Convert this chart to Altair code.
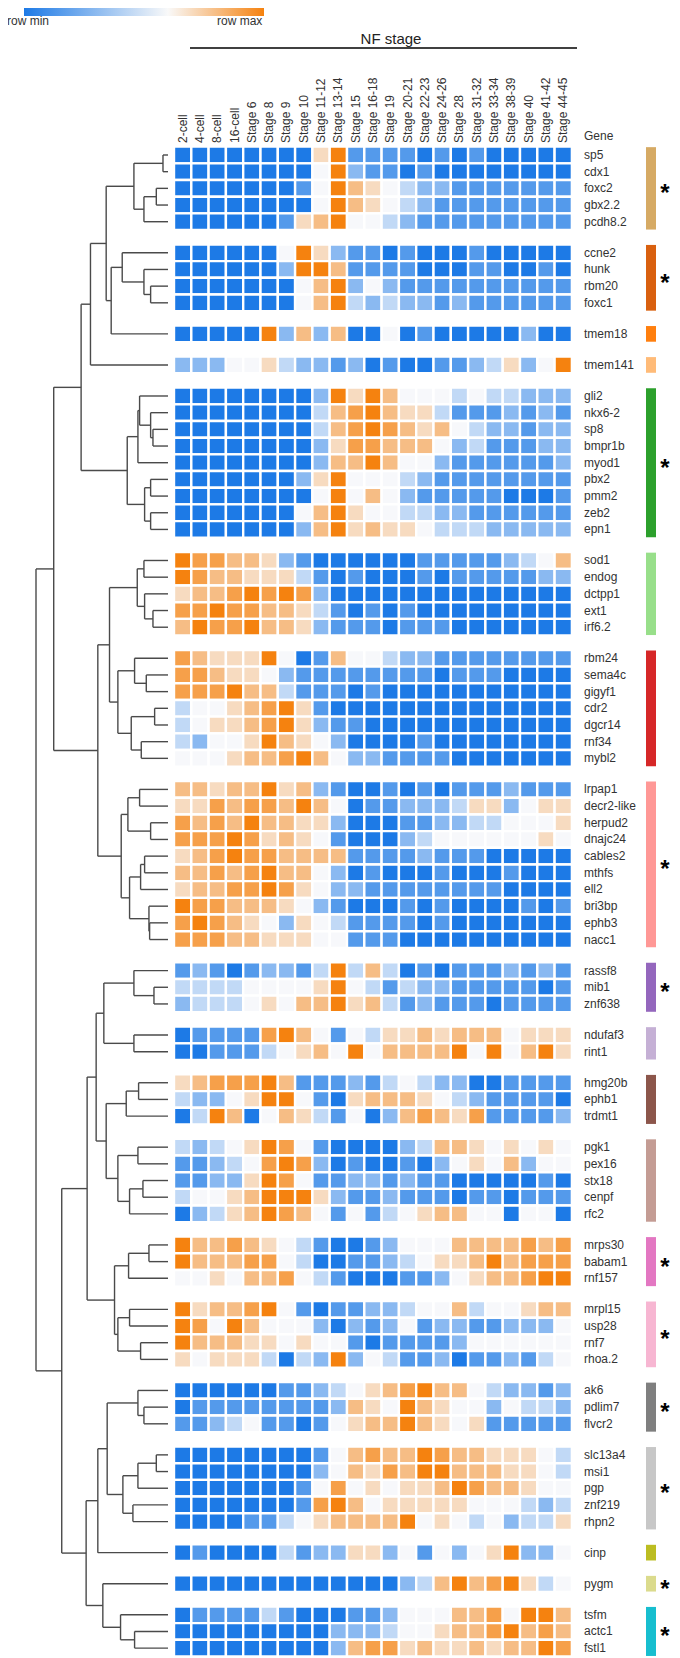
import altair as alt
import pandas as pd

# ---------------- data ----------------
stages = ["2-cell", "4-cell", "8-cell", "16-cell", "Stage 6", "Stage 8", "Stage 9",
          "Stage 10", "Stage 11-12", "Stage 13-14", "Stage 15", "Stage 16-18",
          "Stage 19", "Stage 20-21", "Stage 22-23", "Stage 24-26", "Stage 28",
          "Stage 31-32", "Stage 33-34", "Stage 38-39", "Stage 40", "Stage 41-42",
          "Stage 44-45"]

# expression level per cell, 0 = row min (blue) .. 4 = mid (white) .. 8 = row max (orange)
g01_genes = ["sp5", "cdx1", "foxc2", "gbx2.2", "pcdh8.2"]
g01_levels = ["00000000581111010100000", "00000000482110100000000",
              "00000001486543221111111", "00000000486543211111111",
              "00000015684432111111111"]
g02_genes = ["ccne2", "hunk", "rbm20", "foxc1"]
g02_levels = ["00000048521101000100000", "00000028861111000110010",
              "00000004682421111111111", "00000004683232212111111"]
g03_genes = ["tmem18"]
g03_levels = ["00000826260040100000200"]
g04_genes = ["tmem141"]
g04_levels = ["22244532212010011235248"]
g05_genes = ["gli2", "nkx6-2", "sp8", "bmpr1b", "myod1", "pbx2", "pmm2", "zeb2", "epn1"]
g05_levels = ["00000000285864443433222", "00000000367865531112121",
              "00000000367876564322122", "00000000257766642311122",
              "00000000266864421111112", "00000002584443211111111",
              "00000000484642111110001", "00000004685443322111111",
              "00000002685655433322222"]
g06_genes = ["sod1", "endog", "dctpp1", "ext1", "irf6.2"]
g06_levels = ["87766521000000111112346", "87665553101000101111122",
              "56678787200000000000000", "77877665310101000000000",
              "68778665211101110000000"]
g07_genes = ["rbm24", "sema4c", "gigyf1", "cdr2", "dgcr14", "rnf34", "mybl2"]
g07_levels = ["76555840164432211111111", "77655421111111101110000",
              "77786631110100000000000", "34456785100000000000000",
              "34556785211000000000000", "32445865420000100000000",
              "44456678642211110000000"]
g08_genes = ["lrpap1", "decr2-like", "herpud2", "dnajc24", "cables2", "mthfs",
             "ell2", "bri3bp", "ephb3", "nacc1"]
g08_levels = ["66566856210010101112111", "55767768640112223552455",
              "76768665520001122334445", "77787565410002344444454",
              "56787766661111211100000", "66767866420100010001000",
              "56677875422111111110000", "87766654210001010000101",
              "78765425431111010000000", "77766555441110000000000"]
g09_genes = ["rassf8", "mib1", "znf638"]
g09_levels = ["12101221383630101112121", "33334444584313221111101",
              "23334546685631211101111"]
g10_genes = ["ndufaf3", "rint1"]
g10_levels = ["01111786414355656664555", "00111345648466668484685"]
g11_genes = ["hmg20b", "ephb1", "trdmt1"]
g11_levels = ["56777861112134322001111", "32245884105666543211110",
              "03860465314026765711112"]
g12_genes = ["pgk1", "pex16", "stx18", "cenpf", "rfc2"]
g12_levels = ["32345874100002366545454", "11234787201001024546244",
              "11225874112212110000010", "34456888521121110110111",
              "02356876414134566440440"]
g13_genes = ["mrps30", "babam1", "rnf157"]
g13_levels = ["86676543100124446666767", "86667743001123455686777",
              "44546674310001124566788"]
g14_genes = ["mrpl15", "usp28", "rnf7", "rhoa.2"]
g14_levels = ["85667841011223446344566", "87486444202124122112224",
              "86665545441011112444444", "54555303282431120112134"]
g15_genes = ["ak6", "pdlim7", "flvcr2"]
g15_levels = ["00000011234567866432212", "01111111126548654424332",
              "11234110145668654511111"]
g16_genes = ["slc13a4", "msi1", "pgp", "znf219", "rhpn2"]
g16_levels = ["00000000146766876655543", "00000000246576886665543",
              "00000001474545568766544", "00000001786455555444323",
              "00001134566668454342335"]
g17_genes = ["cinp"]
g17_levels = ["01000031225524142458224"]
g18_genes = ["pygm"]
g18_levels = ["00000000000002368678534"]
g19_genes = ["tsfm", "actc1", "fstl1"]
g19_levels = ["01111310001124446674886", "00000000022234456678676",
              "00000000026775655656687"]

groups = [(g01_genes, g01_levels), (g02_genes, g02_levels), (g03_genes, g03_levels),
          (g04_genes, g04_levels), (g05_genes, g05_levels), (g06_genes, g06_levels),
          (g07_genes, g07_levels), (g08_genes, g08_levels), (g09_genes, g09_levels),
          (g10_genes, g10_levels), (g11_genes, g11_levels), (g12_genes, g12_levels),
          (g13_genes, g13_levels), (g14_genes, g14_levels), (g15_genes, g15_levels),
          (g16_genes, g16_levels), (g17_genes, g17_levels), (g18_genes, g18_levels),
          (g19_genes, g19_levels)]
bar_colors = ["#d6aa64", "#d9600f", "#ff7f0e", "#ffbb78", "#2ca02c", "#98df8a",
              "#d62728", "#ff9896", "#9467bd", "#c5b0d5", "#8c564b", "#c49c94",
              "#e377c2", "#f7b6d2", "#7f7f7f", "#c7c7c7", "#bcbd22", "#dbdb8d",
              "#17becf"]
starred = [1, 1, 0, 0, 1, 0, 0, 1, 1, 0, 0, 0, 1, 1, 1, 1, 0, 1, 1]

# dendrogram: [merge height, left, right]
t_g01 = [102, [15, "sp5", "cdx1"], [72, [35, "foxc2", "gbx2.2"], "pcdh8.2"]]
t_g02 = [137, "ccne2", [72, "hunk", [52, "rbm20", "foxc1"]]]
t_g05 = [122, [90, [85, "gli2", [52, "nkx6-2", [45, "sp8", "bmpr1b"]]], "myod1"],
         [70, [52, "pbx2", "pmm2"], [52, "zeb2", "epn1"]]]
t_g06 = [92, [72, "sod1", "endog"], [70, "dctpp1", [45, "ext1", "irf6.2"]]]
t_g07 = [150, [100, "rbm24", [65, "sema4c", "gigyf1"]],
         [110, [40, "cdr2", "dgcr14"], [80, "rnf34", "mybl2"]]]
t_g08 = [140, [120, [85, "lrpap1", "decr2-like"], [52, "herpud2", "dnajc24"]],
         [115, [82, [70, "cables2", "mthfs"], "ell2"], [57, "bri3bp", [55, "ephb3", "nacc1"]]]]
t_g09 = [102, "rassf8", [42, "mib1", "znf638"]]
t_g10 = [102, "ndufaf3", "rint1"]
t_g11 = [125, [88, "hmg20b", "ephb1"], "trdmt1"]
t_g12 = [150, [90, "pgk1", "pex16"], [115, [75, "stx18", "cenpf"], "rfc2"]]
t_g13 = [118, [57, "mrps30", "babam1"], "rnf157"]
t_g14 = [150, [115, "mrpl15", "usp28"], [82, "rnf7", "rhoa.2"]]
t_g15 = [90, "ak6", [72, "pdlim7", "flvcr2"]]
t_g16 = [135, [90, [35, "slc13a4", "msi1"], "pgp"], [105, "znf219", "rhpn2"]]
t_g19 = [142, "tsfm", [100, "actc1", "fstl1"]]
t_upper = [342, [260, [232, [185, t_g01, [170, t_g02, "tmem18"]], "tmem141"], t_g05],
           [210, [175, t_g06, t_g07], t_g08]]
t_lower = [318, [242, [215, [192, t_g09, t_g10], [185, t_g11, t_g12]], [160, t_g13, t_g14]],
           [245, [210, [182, t_g15, t_g16], "cinp"], [195, "pygm", t_g19]]]
tree = [395, t_upper, t_lower]

# ---------------- layout ----------------
W, H = 664, 1650
HM_LEFT, CW = 166.0, 17.3        # heatmap left edge and column pitch (px)
ROW0, RH, GAP = 147.0, 16.68, 0.862  # first row centre, row pitch, gap between groups (rows)
DEN_LEAF, DEN_ROOT, DEN_MAX = 160.0, 28.0, 395.0

heat, labels, bars = [], [], []
slot_of = {}
idx = 0
for gi, (genes, levels) in enumerate(groups):
    first = idx + gi * GAP
    for g, lv in zip(genes, levels):
        assert len(lv) == len(stages), g
        s = idx + gi * GAP
        slot_of[g] = s
        labels.append({"gene": g, "slot": s})
        for c, ch in enumerate(lv):
            heat.append({"gene": g, "stage": stages[c], "c0": c, "c1": c + 1,
                         "s0": s - 0.5, "s1": s + 0.5, "level": int(ch)})
        idx += 1
    last = idx - 1 + gi * GAP
    bars.append({"s0": first - 0.47, "s1": last + 0.47, "color": bar_colors[gi],
                 "star": "*" if starred[gi] else "", "mid": (first + last) / 2})

segs = []


def walk(node):
    if isinstance(node, str):
        return 0.0, slot_of[node]
    h, left, right = node
    hl, yl = walk(left)
    hr, yr = walk(right)
    segs.append({"d1": h, "d2": h, "s1": yl, "s2": yr})
    segs.append({"d1": hl, "d2": h, "s1": yl, "s2": yl})
    segs.append({"d1": hr, "d2": h, "s1": yr, "s2": yr})
    return h, (yl + yr) / 2


walk(tree)

heat_df = pd.DataFrame(heat)
lab_df = pd.DataFrame(labels)
bar_df = pd.DataFrame(bars)
seg_df = pd.DataFrame(segs)
col_df = pd.DataFrame({"stage": stages, "cm": [i + 0.5 for i in range(len(stages))]})

xs = alt.Scale(domain=[-HM_LEFT / CW, (W - HM_LEFT) / CW], nice=False, zero=False)
ys = alt.Scale(domain=[-ROW0 / RH, (H - ROW0) / RH], nice=False, zero=False, reverse=True)
k = (DEN_LEAF - DEN_ROOT) / DEN_MAX
ds = alt.Scale(domain=[(DEN_LEAF - W) / k, DEN_LEAF / k], nice=False, zero=False, reverse=True)

BLUE, MID, ORANGE = "#1d7ae6", "#f7f8fb", "#f5820f"
FONT = "Liberation Sans"

cells = alt.Chart(heat_df).mark_rect(stroke="white", strokeWidth=2.4).encode(
    x=alt.X("c0:Q", scale=xs, axis=None), x2="c1:Q",
    y=alt.Y("s0:Q", scale=ys, axis=None), y2="s1:Q",
    color=alt.Color("level:Q", legend=None,
                    scale=alt.Scale(domain=[0, 4, 8], range=[BLUE, MID, ORANGE], interpolate="rgb")),
    tooltip=["gene:N", "stage:N", "level:Q"])

dendro = alt.Chart(seg_df).mark_rule(color="#4a4a4a", strokeWidth=1.4).encode(
    x=alt.X("d1:Q", scale=ds, axis=None), x2="d2:Q",
    y=alt.Y("s1:Q", scale=ys, axis=None), y2="s2:Q")

gene_txt = alt.Chart(lab_df).mark_text(align="left", baseline="middle", fontSize=12,
                                       font=FONT, color="#333333").encode(
    x=alt.value(576), y=alt.Y("slot:Q", scale=ys, axis=None), text="gene:N")

col_txt = alt.Chart(col_df).mark_text(angle=270, align="left", baseline="middle", fontSize=12,
                                      font=FONT, color="#333333").encode(
    x=alt.X("cm:Q", scale=xs, axis=None), y=alt.value(135), text="stage:N")

bar_rect = alt.Chart(bar_df).mark_rect().encode(
    x=alt.value(638), x2=alt.value(648),
    y=alt.Y("s0:Q", scale=ys, axis=None), y2="s1:Q",
    color=alt.Color("color:N", scale=None))

stars = alt.Chart(bar_df).mark_text(align="center", baseline="middle", fontSize=24,
                                    fontWeight="bold", font=FONT, color="black", dy=6).encode(
    x=alt.value(657), y=alt.Y("mid:Q", scale=ys, axis=None), text="star:N")

one = pd.DataFrame({"k": [0]})
gene_head = alt.Chart(one).mark_text(align="left", baseline="middle", fontSize=12,
                                     font=FONT, color="#333333", text="Gene").encode(
    x=alt.value(576), y=alt.value(128))
nf_title = alt.Chart(one).mark_text(align="center", baseline="middle", fontSize=15,
                                    font=FONT, color="#222222", text="NF stage").encode(
    x=alt.value(383), y=alt.value(31))
nf_line = alt.Chart(one).mark_rule(color="black", strokeWidth=1.6).encode(
    x=alt.value(182), x2=alt.value(569), y=alt.value(40))

grad = alt.Chart(one).mark_rect(
    color=alt.Gradient(gradient="linear", x1=0, x2=1, y1=0, y2=0,
                       stops=[alt.GradientStop(color=BLUE, offset=0),
                              alt.GradientStop(color="#f9f9f9", offset=0.6),
                              alt.GradientStop(color=ORANGE, offset=1)])).encode(
    x=alt.value(16), x2=alt.value(256), y=alt.value(0), y2=alt.value(8))
row_min = alt.Chart(one).mark_text(align="left", baseline="middle", fontSize=12, font=FONT,
                                   color="#333333", text="row min").encode(
    x=alt.value(-1), y=alt.value(13))
row_max = alt.Chart(one).mark_text(align="left", baseline="middle", fontSize=12, font=FONT,
                                   color="#333333", text="row max").encode(
    x=alt.value(209), y=alt.value(13))

chart = alt.layer(
    cells, dendro, gene_txt, col_txt, bar_rect, stars, gene_head, nf_title, nf_line,
    grad, row_min, row_max
).resolve_scale(x="independent", y="independent").properties(
    width=W, height=H, padding=0, autosize=alt.AutoSizeParams(type="none")
).configure_view(stroke=None)

chart.save("out.html", embed_options={"renderer": "svg", "actions": False})
